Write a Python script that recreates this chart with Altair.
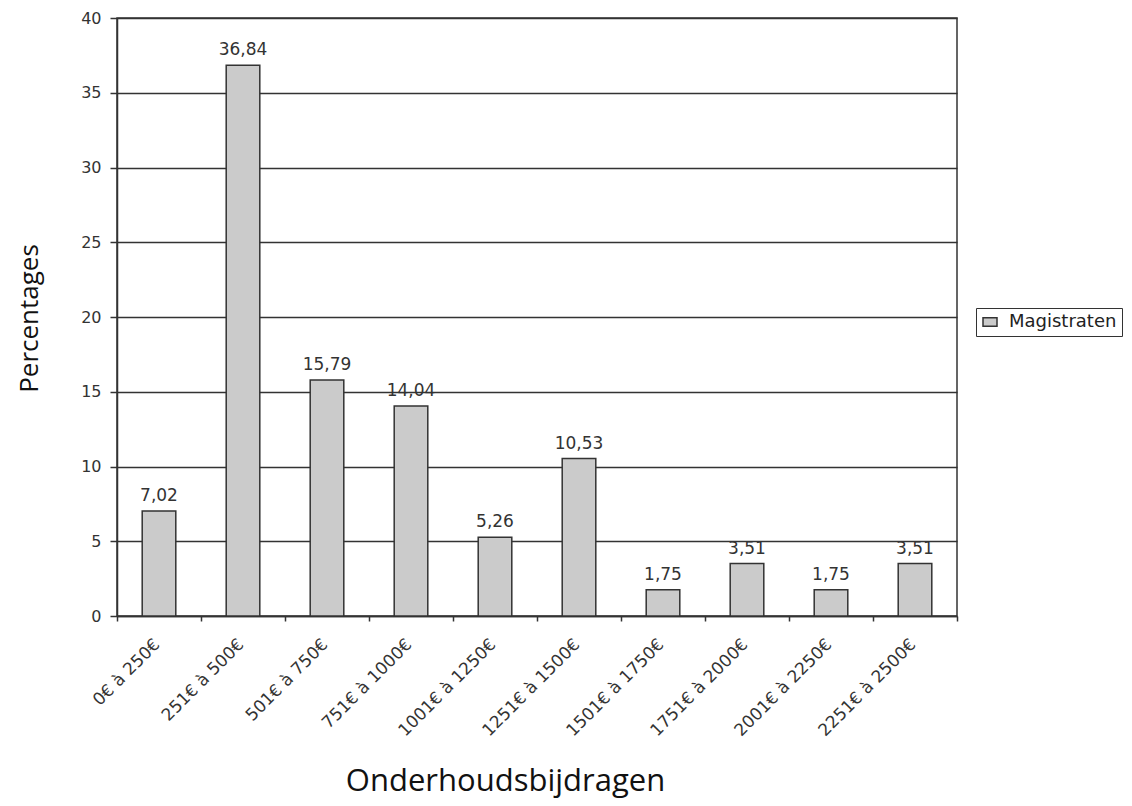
import altair as alt
import pandas as pd

categories = ["0€ à 250€", "251€ à 500€", "501€ à 750€", "751€ à 1000€",
              "1001€ à 1250€", "1251€ à 1500€", "1501€ à 1750€",
              "1751€ à 2000€", "2001€ à 2250€", "2251€ à 2500€"]
values = [7.02, 36.84, 15.79, 14.04, 5.26, 10.53, 1.75, 3.51, 1.75, 3.51]
value_labels = ["7,02", "36,84", "15,79", "14,04", "5,26", "10,53",
                "1,75", "3,51", "1,75", "3,51"]
series = ["Magistraten"] * len(categories)
y_ticks = [0, 5, 10, 15, 20, 25, 30, 35, 40]

df = pd.DataFrame({"cat": categories, "value": values,
                   "label": value_labels, "series": series})

DARK = "#333333"
LFONT = "DejaVu Sans"

x_enc = alt.X("cat:N", sort=categories,
              scale=alt.Scale(paddingInner=0, paddingOuter=0),
              axis=alt.Axis(title="Onderhoudsbijdragen", labelAngle=-45,
                            labelAlign="right", labelBaseline="top",
                            labelFont=LFONT, labelFontSize=17,
                            labelColor=DARK, labelPadding=15,
                            labelOffset=-8,
                            tickBand="extent", tickSize=5, tickColor=DARK,
                            tickWidth=1.5, domainColor=DARK, domainWidth=1.5,
                            titleFont="Open Sans", titleFontSize=31,
                            titleFontWeight="normal", titleColor="#111111",
                            titleX=388, titleY=165, titleAlign="center",
                            titleBaseline="middle"))

y_enc = alt.Y("value:Q", scale=alt.Scale(domain=[0, 40], nice=False),
              axis=alt.Axis(title="Percentages", values=y_ticks, grid=True,
                            gridColor=DARK, gridWidth=1.6, tickSize=7,
                            tickColor=DARK, tickWidth=1.5, domainColor=DARK,
                            domainWidth=1.5, labelPadding=9,
                            labelFont=LFONT, labelFontSize=16,
                            labelColor=DARK, titleFont="Open Sans",
                            titleFontSize=26, titleFontWeight="normal",
                            titleColor="#111111", titleX=-88, titleY=300,
                            titleAngle=-90, titleAlign="center",
                            titleBaseline="middle"))

base = alt.Chart(df).encode(x=x_enc)

bars = base.mark_bar(width=alt.RelativeBandSize(0.4), stroke=DARK,
                     strokeWidth=1.5).encode(
    y=y_enc,
    color=alt.Color("series:N",
                    scale=alt.Scale(range=["#cbcbcb"]),
                    legend=alt.Legend(title=None, orient="none",
                                      legendX=859, legendY=290,
                                      strokeColor=DARK, padding=5,
                                      labelFont=LFONT, labelFontSize=18,
                                      labelColor="#222222", labelOffset=10,
                                      symbolType="M-1,-0.6H1V0.6H-1Z",
                                      symbolSize=196,
                                      symbolStrokeColor=DARK,
                                      symbolStrokeWidth=1.5,
                                      symbolFillColor="#cbcbcb"))
)

text = base.mark_text(dy=-10, baseline="alphabetic", font=LFONT,
                      fontSize=17, color=DARK).encode(
    y=alt.Y("value:Q"), text="label:N")

chart = alt.layer(bars, text).properties(
    width=840, height=598,
    padding={"left": 109, "top": 10, "right": 167, "bottom": 182},
    autosize="none",
    background="white",
).configure_view(stroke=DARK, strokeWidth=1.5)

chart.save("out.html", embed_options={"renderer": "svg", "actions": False})
